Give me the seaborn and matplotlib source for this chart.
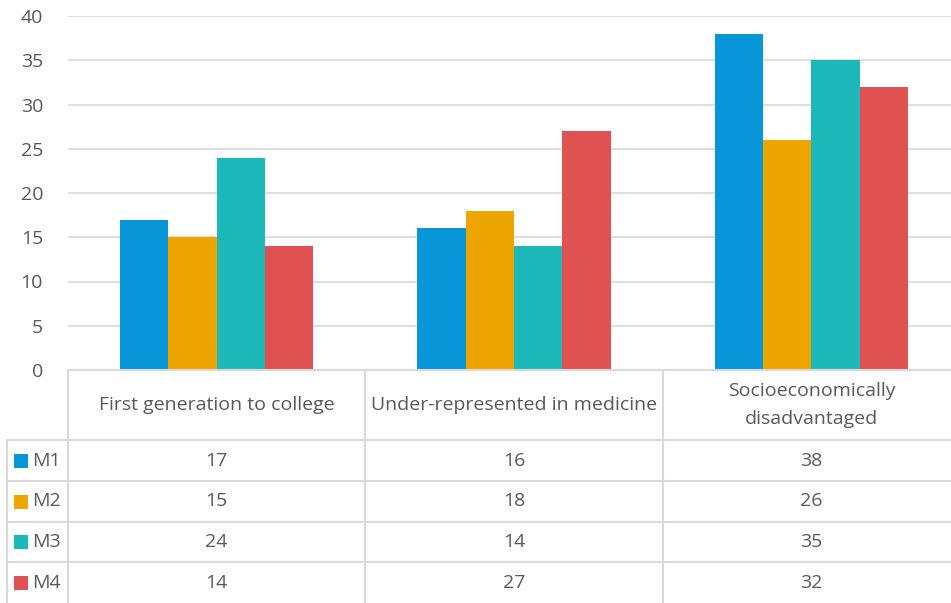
import pandas as pd
import matplotlib.pyplot as plt
import seaborn as sns

categories = ["First generation to college", "Under-represented in medicine",
              "Socioeconomically\ndisadvantaged"]
series = ["M1", "M2", "M3", "M4"]
m1 = [17, 16, 38]
m2 = [15, 18, 26]
m3 = [24, 14, 35]
m4 = [14, 27, 32]
colors = ["#0797d8", "#eda600", "#1db8ba", "#e05252"]
y_ticks = [0, 5, 10, 15, 20, 25, 30, 35, 40]

values = [m1, m2, m3, m4]
df = pd.DataFrame([
    {"category": c, "series": s, "value": v[i]}
    for s, v in zip(series, values)
    for i, c in enumerate(categories)
])

sns.set_theme(style="white")
plt.rcParams["font.family"] = ["Open Sans", "DejaVu Sans"]
text_color = "#595959"
grid_color = "#d9d9d9"
fs = 14

W, H = 951, 603
fig = plt.figure(figsize=(W / 100, H / 100), dpi=100)

# plot area in pixels
left_px, right_px, top_px, base_px = 68, 960, 16, 370
ax = fig.add_axes([left_px / W, (H - base_px) / H,
                   (right_px - left_px) / W, (base_px - top_px) / H])
sns.barplot(data=df, x="category", y="value", hue="series", palette=colors,
            width=0.65, saturation=1, ax=ax, legend=False, linewidth=0,
            errorbar=None)
ax.set_xlim(-0.5, 2.5)
ax.set_ylim(0, 40)
ax.set_yticks(y_ticks)
ax.tick_params(axis="y", length=0, pad=18, labelsize=fs, labelcolor=text_color)
ax.set_xticks([])
ax.set_xlabel("")
ax.set_ylabel("")
ax.yaxis.grid(True, color=grid_color, linewidth=1.2)
ax.set_axisbelow(True)
for side in ["left", "right", "top"]:
    ax.spines[side].set_visible(False)
ax.spines["bottom"].set_color(grid_color)
ax.spines["bottom"].set_linewidth(1.5)

# data table below the plot
unit = (right_px - left_px) / 3.0
tax = fig.add_axes([0, 0, right_px / W, (H - base_px) / H])
tax.set_xlim(-0.5 - left_px / unit, 2.5)
tax.set_ylim(H - base_px, 0)
tax.axis("off")

rows = [0, 70, 111, 152, 192, 233]
leg_left = -0.5 - (left_px - 7) / unit
lw = 1.5
# vertical lines
tax.plot([leg_left, leg_left], [rows[1], rows[-1]], color=grid_color, lw=lw)
for xb in [-0.5, 0.5, 1.5]:
    tax.plot([xb, xb], [rows[0], rows[-1]], color=grid_color, lw=lw)
# horizontal lines
for yb in rows[1:-1]:
    tax.plot([leg_left, 2.5], [yb, yb], color=grid_color, lw=lw)

# header
for i, c in enumerate(categories):
    tax.text(i, (rows[0] + rows[1]) / 2, c, ha="center", va="center",
             fontsize=fs, color=text_color, linespacing=1.7)

# body
for r, (s, v, col) in enumerate(zip(series, values, colors)):
    yc = (rows[r + 1] + rows[r + 2]) / 2
    tax.scatter([leg_left + 14 / unit], [yc], marker="s", s=95, color=col,
                linewidths=0)
    tax.text(leg_left + 25 / unit, yc, s, ha="left", va="center",
             fontsize=fs, color=text_color)
    for i, val in enumerate(v):
        tax.text(i, yc, str(val), ha="center", va="center",
                 fontsize=fs, color=text_color)

fig.savefig("out.png", dpi=100)
